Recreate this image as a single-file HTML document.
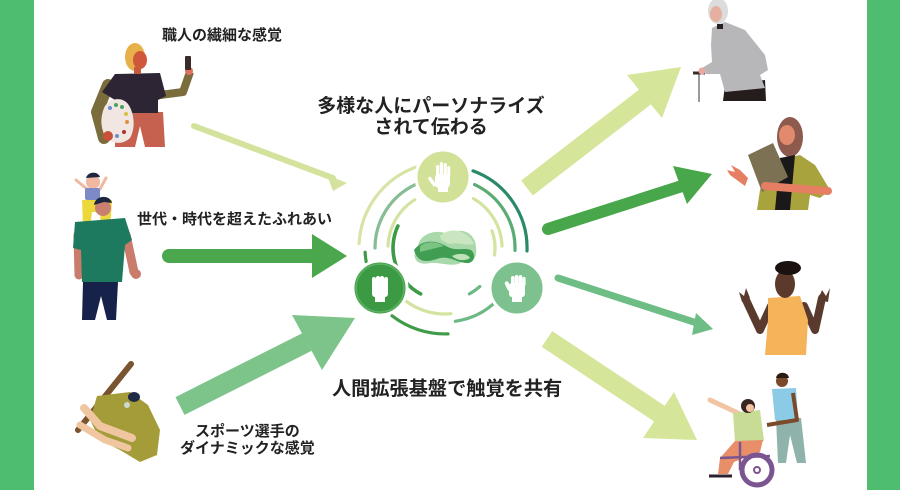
<!DOCTYPE html>
<html>
<head>
<meta charset="utf-8">
<style>
html,body{margin:0;padding:0;background:#fff;}
body{width:900px;height:490px;overflow:hidden;}
svg{display:block;}
text{font-family:"Liberation Sans","Noto Sans CJK JP",sans-serif;font-weight:700;fill:#222;}
</style>
</head>
<body>
<svg width="900" height="490" viewBox="0 0 900 490" xmlns="http://www.w3.org/2000/svg">
<rect x="0" y="0" width="900" height="490" fill="#ffffff"/>
<rect x="0" y="0" width="34" height="490" fill="#4fbd70"/>
<rect x="867" y="0" width="33" height="490" fill="#4fbd70"/>

<!-- ===== Arrows ===== -->
<!-- 1 top-left thin -->
<line x1="194" y1="126" x2="333" y2="178" stroke="#d3e39d" stroke-width="6" stroke-linecap="round"/>
<polygon points="327,175 347,183 333,191" fill="#d3e39d"/>
<!-- 2 middle-left thick dark -->
<line x1="169" y1="256" x2="315" y2="256" stroke="#4ba74c" stroke-width="14" stroke-linecap="round"/>
<polygon points="312,234 347,256 312,278" fill="#4ba74c"/>
<!-- 3 bottom-left medium -->
<line x1="180" y1="406" x2="307" y2="342" stroke="#7cc48a" stroke-width="20"/>
<polygon points="292,315 355,318 322,370" fill="#7cc48a"/>
<!-- 4 top-right light -->
<line x1="527" y1="188" x2="645" y2="97" stroke="#d5e59a" stroke-width="19"/>
<polygon points="627,75 681,67 662,118" fill="#d5e59a"/>
<!-- 5 right dark -->
<line x1="548" y1="229" x2="682" y2="186" stroke="#47a74a" stroke-width="12" stroke-linecap="round"/>
<polygon points="673,166 712,174 687,204" fill="#47a74a"/>
<!-- 6 right thin medium -->
<line x1="558" y1="278" x2="700" y2="324" stroke="#6dbd84" stroke-width="7" stroke-linecap="round"/>
<polygon points="696,313 713,329 692,335" fill="#6dbd84"/>
<!-- 7 bottom-right light -->
<line x1="547" y1="339" x2="660" y2="414" stroke="#d5e59a" stroke-width="19"/>
<polygon points="643,438 697,440 674,392" fill="#d5e59a"/>

<!-- ===== Center rings ===== -->
<g fill="none" stroke-width="3.2" stroke-linecap="round">
  <path d="M359.1,243.5 A86,86 0 0 1 415.6,167.2" stroke="#d6e4a6"/>
  <path d="M473,170.9 A82,82 0 0 1 527,250.9" stroke="#2a8a68"/>
  <path d="M448,333.9 A86,86 0 0 1 392,315.8" stroke="#3e9c48"/>
  <path d="M366.2,261.9 A80,80 0 0 1 365.1,252.2" stroke="#3e9c48"/>

  <path d="M375,248 A70,70 0 0 1 415.4,184.6" stroke="#86bd94"/>
  <path d="M474.6,184.6 A70,70 0 0 1 515,250.4" stroke="#5aab72"/>
  <path d="M450.8,313.7 A66,66 0 0 1 405.3,300.7" stroke="#d3e3a0"/>
  <path d="M497.3,300.3 A74,74 0 0 1 455.3,321.3" stroke="#6cb985"/>

  <path d="M388,246 A57,57 0 0 1 414.8,199.7" stroke="#d3e3a0"/>
  <path d="M473.5,198.6 A57,57 0 0 1 502,246" stroke="#d3e3a0"/>

  <path d="M420.6,293.9 A52,52 0 0 1 397.9,226" stroke="#3d9a45" stroke-width="3.6"/>
  <path d="M492,230.9 A50,50 0 0 1 494.5,255" stroke="#d3e3a0"/>
  <path d="M479.8,286.6 A52,52 0 0 1 469.4,293.9" stroke="#6cb985"/>
</g>

<!-- center logo -->
<g>
  <path d="M418,246 C420,233 438,228 449,235 C459,226 476,232 476,248 C478,258 470,266 462,262 C454,268 440,262 430,263 C417,266 410,258 418,246 Z" fill="#a9d8ab"/>
  <path d="M440,236 C450,226 468,230 474,244 C466,246 458,242 450,244 C444,242 440,240 440,236 Z" fill="#c9e6c0"/>
  <path d="M414,250 C422,239 436,240 446,246 C456,252 463,247 471,250 C477,255 474,264 466,263 C456,262 450,256 440,258 C428,262 418,264 414,250 Z" fill="#3f9e52"/>
  <path d="M420,246 C428,240 438,242 444,246 C436,248 428,250 420,252 Z" fill="#7cc484"/>
  <path d="M452,256 C460,252 468,254 470,258 C464,262 456,260 452,256 Z" fill="#bfe2b8"/>
</g>

<!-- circles -->
<circle cx="443" cy="177" r="27" fill="#d2e198" stroke="#fff" stroke-width="3"/>
<circle cx="380" cy="288" r="27" fill="#3c9a44" stroke="#fff" stroke-width="3"/>
<circle cx="380" cy="288" r="24" fill="none" stroke="#5db362" stroke-width="1.5"/>
<circle cx="517" cy="288" r="27" fill="#7dc28e" stroke="#fff" stroke-width="3"/>

<!-- palm -->
<g fill="#fff">
  <rect x="435" y="174" width="15" height="14" rx="4"/>
  <rect x="436" y="165" width="3.2" height="13" rx="1.6"/>
  <rect x="439.8" y="162" width="3.2" height="15" rx="1.6"/>
  <rect x="443.6" y="163" width="3.2" height="14" rx="1.6"/>
  <rect x="447.2" y="166" width="3" height="11" rx="1.5"/>
  <rect x="430" y="176" width="3.4" height="11" rx="1.7" transform="rotate(-35 432 181)"/>
  <rect x="438" y="186" width="10" height="6" rx="1"/>
</g>
<!-- fist left -->
<g fill="#fff">
  <rect x="372" y="283" width="16" height="14" rx="3"/>
  <rect x="372" y="277" width="4" height="9" rx="2"/>
  <rect x="376" y="276" width="4" height="9" rx="2"/>
  <rect x="380" y="276" width="4" height="9" rx="2"/>
  <rect x="384" y="277" width="4" height="9" rx="2"/>
  <rect x="375" y="296" width="10" height="6"/>
</g>
<!-- fist right -->
<g fill="#fff">
  <rect x="509" y="283" width="16" height="14" rx="3"/>
  <rect x="511" y="276" width="3.6" height="10" rx="1.8"/>
  <rect x="514.8" y="275" width="3.6" height="10" rx="1.8"/>
  <rect x="518.6" y="275" width="3.6" height="10" rx="1.8"/>
  <rect x="522.2" y="277" width="3.4" height="9" rx="1.7"/>
  <rect x="506" y="281" width="4" height="10" rx="2" transform="rotate(-25 508 286)"/>
  <rect x="512" y="296" width="10" height="6"/>
</g>

<!-- ===== Text ===== -->
<text x="162" y="40" font-size="15">職人の繊細な感覚</text>
<text x="137" y="224" font-size="15">世代・時代を超えたふれあい</text>
<text x="431" y="112" font-size="19" text-anchor="middle">多様な人にパーソナライズ</text>
<text x="431" y="133" font-size="19" text-anchor="middle">されて伝わる</text>
<text x="332" y="395" font-size="19.2">人間拡張基盤で触覚を共有</text>
<text x="195" y="436" font-size="15">スポーツ選手の</text>
<text x="180" y="453" font-size="15">ダイナミックな感覚</text>

<!-- ===== People: left ===== -->
<!-- artist -->
<g>
  <polyline points="160,95 183,92 190,72" fill="none" stroke="#7b6c3c" stroke-width="8" stroke-linejoin="round"/>
  <circle cx="189" cy="71" r="4" fill="#e07060"/>
  <rect x="185" y="56" width="6" height="14" rx="1" fill="#3a2a2a"/>
  <polyline points="108,85 97,112 104,138" fill="none" stroke="#7b6c3c" stroke-width="12" stroke-linejoin="round" stroke-linecap="round"/>
  <polygon points="115,112 163,112 165,147 145,147 140,126 135,147 115,147" fill="#c5614e"/>
  <polygon points="102,92 115,74 160,73 166,96 158,100 158,113 116,113 115,100" fill="#2d2533"/>
  <ellipse cx="135" cy="57" rx="10" ry="14" fill="#e8b04a"/>
  <ellipse cx="140" cy="60" rx="7" ry="9" fill="#d0583a"/>
  <rect x="134" y="67" width="7" height="7" fill="#c85a3c"/>
  <path d="M104,108 C108,98 122,96 128,104 C134,112 136,128 130,138 C122,146 108,144 104,134 C100,124 101,116 104,108 Z" fill="#f2e6e2"/>
  <circle cx="110" cy="108" r="2" fill="#6a8fd0"/>
  <circle cx="116" cy="105" r="2" fill="#4aa35a"/>
  <circle cx="122" cy="107" r="2" fill="#4aa35a"/>
  <circle cx="126" cy="114" r="2" fill="#d8c040"/>
  <circle cx="127" cy="122" r="2" fill="#e09040"/>
  <circle cx="124" cy="132" r="2" fill="#b03030"/>
  <circle cx="117" cy="136" r="2" fill="#6a8fd0"/>
  <circle cx="108" cy="136" r="5" fill="#c9503a"/>
</g>

<!-- father + kid -->
<g>
  <line x1="87" y1="189" x2="76" y2="180" stroke="#f0b8a0" stroke-width="3" stroke-linecap="round"/>
  <line x1="100" y1="189" x2="106" y2="178" stroke="#f0b8a0" stroke-width="3" stroke-linecap="round"/>
  <circle cx="93" cy="182" r="7" fill="#f0b8a0"/>
  <path d="M86,178 C88,171 98,171 100,177 Z" fill="#1d2640"/>
  <rect x="85" y="188" width="15" height="12" rx="2" fill="#7c8ac8"/>
  <polygon points="82,200 112,200 110,230 101,232 100,212 92,212 90,228 83,226" fill="#ecd83a"/>
  <line x1="78" y1="235" x2="79" y2="275" stroke="#c97b6c" stroke-width="9" stroke-linecap="round"/>
  <line x1="126" y1="235" x2="134" y2="272" stroke="#c97b6c" stroke-width="9" stroke-linecap="round"/>
  <circle cx="136" cy="274" r="5" fill="#c97b6c"/>
  <polygon points="75,222 125,218 132,240 125,245 122,282 82,282 81,250 73,248" fill="#1e7a5e"/>
  <circle cx="103" cy="208" r="8" fill="#c98070"/>
  <path d="M94,205 C95,195 110,194 112,203 L104,202 Z" fill="#1d2640"/>
  <polygon points="83,282 118,282 116,320 107,320 101,296 95,320 82,320" fill="#16224a"/>
</g>

<!-- batter -->
<g>
  <line x1="78" y1="430" x2="131" y2="364" stroke="#7a5330" stroke-width="6" stroke-linecap="round"/>
  <polygon points="97,396 130,392 148,405 160,430 157,455 140,462 120,450 100,440 90,420" fill="#a39c38"/>
  <polyline points="84,408 100,426 132,438" fill="none" stroke="#f0c6a0" stroke-width="8" stroke-linecap="round" stroke-linejoin="round"/>
  <polyline points="80,425 105,440 128,448" fill="none" stroke="#f0c6a0" stroke-width="7" stroke-linecap="round" stroke-linejoin="round"/>
  <ellipse cx="134" cy="397" rx="6" ry="5" fill="#1f2a44"/>
  <circle cx="127" cy="405" r="3" fill="#cfd8cf"/>
</g>

<!-- ===== People: right ===== -->
<!-- old man -->
<g>
  <line x1="699" y1="73" x2="699" y2="102" stroke="#9a9a9a" stroke-width="2"/>
  <line x1="693" y1="73" x2="705" y2="73" stroke="#3a2a2a" stroke-width="3"/>
  <polygon points="725,85 765,80 766,101 723,101" fill="#251c1c"/>
  <polygon points="712,28 725,22 745,30 765,55 768,70 760,75 765,88 725,92 720,74 706,74 702,68 712,62 711,45" fill="#b7b7ba"/>
  <circle cx="702" cy="71" r="3.5" fill="#e8a8a0"/>
  <ellipse cx="718" cy="11" rx="10" ry="13" fill="#dcdcdc"/>
  <ellipse cx="716" cy="14" rx="6" ry="8" fill="#e6b0a0"/>
  <rect x="717" y="24" width="6" height="5" fill="#2a2020"/>
</g>

<!-- woman with clipboard -->
<g>
  <ellipse cx="790" cy="137" rx="13" ry="20" fill="#8e5a4e"/>
  <ellipse cx="787" cy="135" rx="8" ry="10" fill="#e28a6e"/>
  <polygon points="770,162 800,155 815,165 830,190 820,198 810,195 808,210 757,210 760,190" fill="#a8a33c"/>
  <polygon points="780,158 795,155 790,210 775,210" fill="#1a1818"/>
  <polygon points="748,155 773,143 788,177 762,192" fill="#7d7154"/>
  <line x1="765" y1="186" x2="828" y2="191" stroke="#e57e62" stroke-width="8" stroke-linecap="round"/>
  <path d="M745,186 L730,175 L727,170 L735,172 L731,165 L740,170 L748,178 Z" fill="#e57e62"/>
</g>

<!-- man yellow shirt -->
<g>
  <polyline points="771,306 760,330 746,300" fill="none" stroke="#5a3a2c" stroke-width="8" stroke-linecap="round" stroke-linejoin="round"/>
  <polyline points="804,306 815,330 822,298" fill="none" stroke="#5a3a2c" stroke-width="8" stroke-linecap="round" stroke-linejoin="round"/>
  <path d="M742,302 L739,292 L744,296 L746,288 L750,298 Z" fill="#5a3a2c"/>
  <path d="M818,300 L822,290 L826,296 L830,288 L828,302 Z" fill="#5a3a2c"/>
  <polygon points="768,298 800,296 808,320 806,355 765,355 768,320" fill="#f5b35a"/>
  <ellipse cx="785" cy="284" rx="10" ry="14" fill="#5b3a2c"/>
  <ellipse cx="788" cy="268" rx="13" ry="7" fill="#1a1210"/>
</g>

<!-- wheelchair group -->
<g>
  <polygon points="776,418 801,418 806,463 797,463 790,435 786,463 778,463" fill="#8fb2aa"/>
  <polygon points="772,389 796,388 798,420 775,420" fill="#8ccbe6"/>
  <polyline points="793,393 797,420 767,425" fill="none" stroke="#7a4a2a" stroke-width="4" stroke-linejoin="round"/>
  <circle cx="782" cy="381" r="6" fill="#7a4a2a"/>
  <path d="M776,378 C777,371 788,371 789,378 Z" fill="#2a1a12"/>
  <line x1="740" y1="414" x2="710" y2="400" stroke="#f1c4a4" stroke-width="5" stroke-linecap="round"/>
  <polygon points="733,413 760,410 764,441 735,442" fill="#c8dc95"/>
  <polygon points="735,441 763,440 760,452 734,462 728,474 718,474 720,458" fill="#e88f6a"/>
  <circle cx="748" cy="406" r="7" fill="#3a2620"/>
  <circle cx="750" cy="408" r="4" fill="#f1c4a4"/>
  <line x1="740" y1="442" x2="740" y2="470" stroke="#7a5590" stroke-width="2.5"/>
  <line x1="720" y1="458" x2="770" y2="456" stroke="#7a5590" stroke-width="2.5"/>
  <circle cx="757" cy="470" r="15" fill="none" stroke="#7a5590" stroke-width="5"/>
  <circle cx="757" cy="470" r="3" fill="none" stroke="#7a5590" stroke-width="2"/>
  <line x1="709" y1="476" x2="732" y2="476" stroke="#2a2030" stroke-width="3"/>
</g>
</svg>
</body>
</html>
